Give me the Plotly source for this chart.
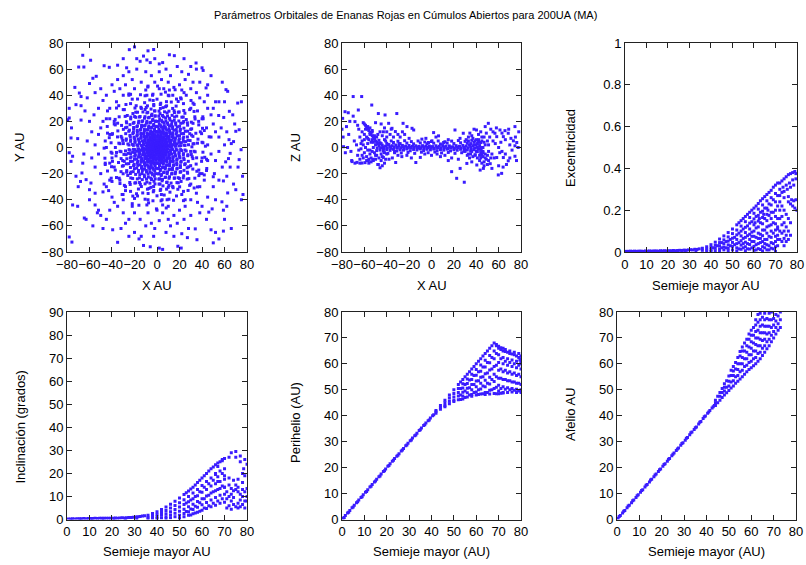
import plotly.graph_objects as go

title_text = "Parámetros Orbitales de Enanas Rojas en Cúmulos Abiertos para 200UA (MA)"

# ---------------- Panel 1: X vs Y (AU) ----------------
pos_xy = [
    (0, 0), (1, 1), (-1, 1), (1, -1), (-1, -1), (2, 0), (-2, 0), (0, 2), (0, -2), (3, 1), (-3, -1), (1, 3), (-1, -3),
    (2, -2), (-2, 2), (4, -3), (3, -4), (-3, 3), (5, 2), (-4, -4), (6, -1), (5, -5), (2, 5), (-5, 1), (-6, -2),
    (4, 0.3), (8, 0.5), (12, 0.4), (16, 1.0), (20, 1.2), (24, 1.8), (28, 2.1), (32, 2.8), (36, 3.3), (40, 4),
    (3.9, 1.1), (7.8, 2.2), (11.6, 3.3), (15.5, 4.5), (19.4, 5.6), (23.2, 6.8), (27, 8.1), (30.7, 9.5), (34.5, 10.9),
    (3.4, 2.1), (6.9, 4.1), (10.3, 6.2), (13.7, 8.3), (17.1, 10.4), (20.5, 12.6), (23.9, 14.8), (27.2, 17.1), (30.5, 19.4), (33.8, 21.8),
    (2.8, 2.9), (5.6, 5.8), (8.4, 8.6), (11.2, 11.5), (13.9, 14.4), (16.7, 17.3), (19.4, 20.3), (22.1, 23.2), (24.8, 26.2),
    (2, 3.5), (3.9, 7), (5.9, 10.5), (7.8, 14), (9.7, 17.5), (11.6, 21), (13.4, 24.6), (15.2, 28.1), (17, 31.7), (18.8, 35.2),
    (1, 3.9), (2, 7.8), (3, 11.7), (4, 15.6), (4.9, 19.5), (5.8, 23.4), (6.7, 27.3), (7.6, 31.2), (8.4, 35.1),
    (-0.3, 4), (-0.5, 8), (-0.6, 12), (-1, 16), (-1.3, 20), (-1.8, 24), (-2.2, 28), (-2.9, 32), (-3.4, 36), (-4, 40),
    (-1.1, 3.9), (-2.2, 7.8), (-3.3, 11.6), (-4.5, 15.5), (-5.7, 19.3), (-6.9, 23.1), (-8.2, 26.9), (-9.6, 30.6), (-11, 34.3),
    (-2.1, 3.4), (-4.1, 6.9), (-6.2, 10.3), (-8.3, 13.7), (-10.5, 17.1), (-12.7, 20.4), (-15, 23.7), (-17.3, 27), (-19.6, 30.2),
    (-2.9, 2.8), (-5.8, 5.6), (-8.7, 8.4), (-11.6, 11.1), (-14.5, 13.8), (-17.4, 16.5), (-20.4, 19.2), (-23.4, 21.9), (-26.4, 24.5),
    (-3.5, 2), (-7, 3.9), (-10.5, 5.9), (-14, 7.8), (-17.5, 9.7), (-21, 11.5), (-24.5, 13.3), (-28, 15.1), (-31.5, 16.9), (-35, 18.6),
    (-3.9, 1), (-7.8, 2), (-11.7, 2.9), (-15.6, 3.9), (-19.5, 4.8), (-23.4, 5.7), (-27.3, 6.5), (-31.2, 7.3), (-35.1, 8.1),
    (-4, -0.3), (-8, -0.6), (-12, -0.8), (-16, -1.2), (-20, -1.6), (-24, -2.1), (-28, -2.6), (-32, -3.2), (-36, -3.8), (-40, -4.4),
    (-3.9, -1.1), (-7.8, -2.2), (-11.6, -3.4), (-15.4, -4.6), (-19.2, -5.9), (-23, -7.2), (-26.8, -8.6), (-30.5, -10), (-34.2, -11.5),
    (-3.4, -2.1), (-6.8, -4.2), (-10.2, -6.3), (-13.6, -8.5), (-17, -10.7), (-20.3, -13), (-23.6, -15.3), (-26.9, -17.7), (-30.1, -20.1),
    (-2.8, -2.9), (-5.6, -5.8), (-8.3, -8.7), (-11, -11.6), (-13.7, -14.6), (-16.4, -17.6), (-19, -20.6), (-21.6, -23.7), (-24.2, -26.8),
    (-2, -3.5), (-3.9, -7), (-5.8, -10.5), (-7.7, -14), (-9.5, -17.5), (-11.3, -21.1), (-13.1, -24.6), (-14.8, -28.2), (-16.5, -31.8), (-18.2, -35.4),
    (-1, -3.9), (-2, -7.8), (-2.9, -11.7), (-3.8, -15.6), (-4.7, -19.5), (-5.5, -23.4), (-6.3, -27.3), (-7.1, -31.3), (-7.9, -35.2),
    (0.3, -4), (0.6, -8), (0.9, -12), (1.3, -16), (1.7, -20), (2.2, -24), (2.7, -28), (3.3, -32), (3.9, -36), (4.5, -40), (5, -44),
    (1.1, -3.9), (2.2, -7.7), (3.4, -11.6), (4.6, -15.4), (5.9, -19.2), (7.2, -23), (8.6, -26.8), (10, -30.5), (11.5, -34.2),
    (2.1, -3.4), (4.2, -6.8), (6.3, -10.2), (8.5, -13.6), (10.7, -17), (13, -20.3), (15.3, -23.6), (17.7, -26.9), (20.1, -30.1),
    (2.9, -2.8), (5.8, -5.6), (8.7, -8.3), (11.6, -11), (14.6, -13.7), (17.6, -16.4), (20.6, -19), (23.7, -21.6), (26.8, -24.2),
    (3.5, -2), (7, -3.9), (10.5, -5.8), (14, -7.7), (17.5, -9.5), (21.1, -11.3), (24.6, -13.1), (28.2, -14.8), (31.8, -16.5), (35.4, -18.2),
    (3.9, -1), (7.8, -2), (11.7, -2.9), (15.6, -3.8), (19.5, -4.7), (23.4, -5.5), (27.3, -6.3), (31.3, -7.1), (35.2, -7.9),
    (5.9, 0.9), (9.9, 1.5), (13.8, 2.2), (17.7, 2.9), (21.6, 3.7), (25.5, 4.5), (29.4, 5.3),
    (5.5, 2.4), (9.2, 4), (12.8, 5.6), (16.4, 7.3), (20, 9), (23.6, 10.7), (27.2, 12.5), (30.8, 14.3),
    (4.7, 3.8), (7.8, 6.2), (10.9, 8.7), (14, 11.2), (17.1, 13.7), (20.1, 16.2), (23.1, 18.8), (26, 21.4),
    (3.6, 4.8), (6, 8), (8.4, 11.2), (10.7, 14.4), (13, 17.6), (15.3, 20.8), (17.5, 24), (19.7, 27.2),
    (2.2, 5.6), (3.7, 9.3), (5.1, 13), (6.5, 16.7), (7.9, 20.4), (9.3, 24.1), (10.6, 27.8),
    (0.7, 5.9), (1.2, 9.9), (1.6, 13.9), (2, 17.9), (2.4, 21.9), (2.7, 25.9), (3, 29.9), (3.3, 33.9),
    (-0.9, 5.9), (-1.5, 9.9), (-2.2, 13.8), (-2.9, 17.7), (-3.7, 21.6), (-4.5, 25.5), (-5.3, 29.4),
    (-2.4, 5.5), (-4, 9.2), (-5.6, 12.8), (-7.3, 16.4), (-9, 20), (-10.7, 23.6), (-12.5, 27.2), (-14.3, 30.8),
    (-3.8, 4.7), (-6.2, 7.8), (-8.7, 10.9), (-11.2, 14), (-13.7, 17.1), (-16.2, 20.1), (-18.8, 23.1), (-21.4, 26),
    (-4.8, 3.6), (-8, 6), (-11.2, 8.4), (-14.4, 10.7), (-17.6, 13), (-20.8, 15.3), (-24, 17.5), (-27.2, 19.7),
    (-5.6, 2.2), (-9.3, 3.7), (-13, 5.1), (-16.7, 6.5), (-20.4, 7.9), (-24.1, 9.3), (-27.8, 10.6),
    (-5.9, 0.7), (-9.9, 1.2), (-13.9, 1.6), (-17.9, 2), (-21.9, 2.4), (-25.9, 2.7), (-29.9, 3), (-33.9, 3.3),
    (-5.9, -0.9), (-9.9, -1.5), (-13.8, -2.2), (-17.7, -2.9), (-21.6, -3.7), (-25.5, -4.5), (-29.4, -5.3),
    (-5.5, -2.4), (-9.2, -4), (-12.8, -5.6), (-16.4, -7.3), (-20, -9), (-23.6, -10.7), (-27.2, -12.5), (-30.8, -14.3),
    (-4.7, -3.8), (-7.8, -6.2), (-10.9, -8.7), (-14, -11.2), (-17.1, -13.7), (-20.1, -16.2), (-23.1, -18.8), (-26, -21.4),
    (-3.6, -4.8), (-6, -8), (-8.4, -11.2), (-10.7, -14.4), (-13, -17.6), (-15.3, -20.8), (-17.5, -24), (-19.7, -27.2),
    (-2.2, -5.6), (-3.7, -9.3), (-5.1, -13), (-6.5, -16.7), (-7.9, -20.4), (-9.3, -24.1), (-10.6, -27.8),
    (-0.7, -5.9), (-1.2, -9.9), (-1.6, -13.9), (-2, -17.9), (-2.4, -21.9), (-2.7, -25.9), (-3, -29.9), (-3.3, -33.9),
    (0.9, -5.9), (1.5, -9.9), (2.2, -13.8), (2.9, -17.7), (3.7, -21.6), (4.5, -25.5), (5.3, -29.4),
    (2.4, -5.5), (4, -9.2), (5.6, -12.8), (7.3, -16.4), (9, -20), (10.7, -23.6), (12.5, -27.2), (14.3, -30.8),
    (3.8, -4.7), (6.2, -7.8), (8.7, -10.9), (11.2, -14), (13.7, -17.1), (16.2, -20.1), (18.8, -23.1), (21.4, -26),
    (4.8, -3.6), (8, -6), (11.2, -8.4), (14.4, -10.7), (17.6, -13), (20.8, -15.3), (24, -17.5), (27.2, -19.7),
    (5.6, -2.2), (9.3, -3.7), (13, -5.1), (16.7, -6.5), (20.4, -7.9), (24.1, -9.3), (27.8, -10.6),
    (5.9, -0.7), (9.9, -1.2), (13.9, -1.6), (17.9, -2), (21.9, -2.4), (25.9, -2.7), (29.9, -3), (33.9, -3.3),
    # third set of spokes (fills the dense core)
    (9, 0.6), (13, 0.8), (17, 1.1), (21, 1.4), (24.9, 1.6), (7.8, 1.6), (11.8, 2.3), (15.7, 3.1), (19.6, 3.9), (23.5, 4.7), (27.5, 5.5),
    (8.5, 2.9), (12.3, 4.2), (16.1, 5.5), (19.9, 6.7), (23.7, 8), (7.2, 3.5), (10.8, 5.3), (14.4, 7.1), (17.9, 8.8), (21.5, 10.6), (25.1, 12.4),
    (7.5, 5), (10.8, 7.2), (14.1, 9.5), (17.5, 11.7), (20.8, 13.9), (6, 5.3), (9, 7.9), (12, 10.5), (15, 13.2), (18, 15.8), (21.1, 18.5),
    (5.9, 6.8), (8.6, 9.8), (11.2, 12.8), (13.8, 15.8), (16.5, 18.8), (4.4, 6.6), (6.7, 10), (8.9, 13.3), (11.1, 16.6), (13.3, 19.9), (15.6, 23.3),
    (4, 8.1), (5.7, 11.7), (7.5, 15.2), (9.3, 18.8), (11.1, 22.4), (2.6, 7.6), (3.9, 11.4), (5.1, 15.2), (6.4, 18.9), (7.7, 22.7), (9, 26.5),
    (1.8, 8.8), (2.5, 12.8), (3.3, 16.7), (4.1, 20.6), (4.9, 24.5), (0.5, 8), (0.8, 12), (1, 16), (1.3, 20), (1.6, 24), (1.8, 27.9),
    (-9, 0.7), (-13, 1), (-17, 1.3), (-21, 1.6), (-24.9, 1.9), (-7.8, 1.6), (-11.8, 2.3), (-15.7, 3.1), (-19.6, 3.9), (-23.5, 4.7), (-27.5, 5.5),
    (-8.5, 2.9), (-12.3, 4.2), (-16.1, 5.5), (-19.9, 6.7), (-23.7, 8), (-7.2, 3.5), (-10.8, 5.3), (-14.4, 7.1), (-17.9, 8.8), (-21.5, 10.6), (-25.1, 12.4),
    (-7.5, 5), (-10.8, 7.2), (-14.1, 9.5), (-17.5, 11.7), (-20.8, 13.9), (-6, 5.3), (-9, 7.9), (-12, 10.5), (-15, 13.2), (-18, 15.8), (-21.1, 18.5),
    (-5.9, 6.8), (-8.6, 9.8), (-11.2, 12.8), (-13.8, 15.8), (-16.5, 18.8), (-4.4, 6.6), (-6.7, 10), (-8.9, 13.3), (-11.1, 16.6), (-13.3, 19.9), (-15.6, 23.3),
    (-4, 8.1), (-5.7, 11.7), (-7.5, 15.2), (-9.3, 18.8), (-11.1, 22.4), (-2.6, 7.6), (-3.9, 11.4), (-5.1, 15.2), (-6.4, 18.9), (-7.7, 22.7), (-9, 26.5),
    (-1.8, 8.8), (-2.5, 12.8), (-3.3, 16.7), (-4.1, 20.6), (-4.9, 24.5), (-0.5, 8.2), (-0.8, 12.2), (-1, 16.2), (-1.3, 20.2), (-1.6, 24.2), (-1.8, 28),
    (-9, -0.6), (-13, -0.8), (-17, -1.1), (-21, -1.4), (-24.9, -1.6), (-7.8, -1.6), (-11.8, -2.3), (-15.7, -3.1), (-19.6, -3.9), (-23.5, -4.7), (-27.5, -5.5),
    (-8.5, -2.9), (-12.3, -4.2), (-16.1, -5.5), (-19.9, -6.7), (-23.7, -8), (-7.2, -3.5), (-10.8, -5.3), (-14.4, -7.1), (-17.9, -8.8), (-21.5, -10.6), (-25.1, -12.4),
    (-7.5, -5), (-10.8, -7.2), (-14.1, -9.5), (-17.5, -11.7), (-20.8, -13.9), (-6, -5.3), (-9, -7.9), (-12, -10.5), (-15, -13.2), (-18, -15.8), (-21.1, -18.5),
    (-5.9, -6.8), (-8.6, -9.8), (-11.2, -12.8), (-13.8, -15.8), (-16.5, -18.8), (-4.4, -6.6), (-6.7, -10), (-8.9, -13.3), (-11.1, -16.6), (-13.3, -19.9), (-15.6, -23.3),
    (-4, -8.1), (-5.7, -11.7), (-7.5, -15.2), (-9.3, -18.8), (-11.1, -22.4), (-2.6, -7.6), (-3.9, -11.4), (-5.1, -15.2), (-6.4, -18.9), (-7.7, -22.7), (-9, -26.5),
    (-1.8, -8.8), (-2.5, -12.8), (-3.3, -16.7), (-4.1, -20.6), (-4.9, -24.5), (-0.5, -8), (-0.8, -12), (-1, -16), (-1.3, -20), (-1.6, -24), (-1.8, -27.9),
    (9, -0.7), (13, -1), (17, -1.3), (21, -1.6), (24.9, -1.9), (7.8, -1.6), (11.8, -2.3), (15.7, -3.1), (19.6, -3.9), (23.5, -4.7), (27.5, -5.5),
    (8.5, -2.9), (12.3, -4.2), (16.1, -5.5), (19.9, -6.7), (23.7, -8), (7.2, -3.5), (10.8, -5.3), (14.4, -7.1), (17.9, -8.8), (21.5, -10.6), (25.1, -12.4),
    (7.5, -5), (10.8, -7.2), (14.1, -9.5), (17.5, -11.7), (20.8, -13.9), (6, -5.3), (9, -7.9), (12, -10.5), (15, -13.2), (18, -15.8), (21.1, -18.5),
    (5.9, -6.8), (8.6, -9.8), (11.2, -12.8), (13.8, -15.8), (16.5, -18.8), (4.4, -6.6), (6.7, -10), (8.9, -13.3), (11.1, -16.6), (13.3, -19.9), (15.6, -23.3),
    (4, -8.1), (5.7, -11.7), (7.5, -15.2), (9.3, -18.8), (11.1, -22.4), (2.6, -7.6), (3.9, -11.4), (5.1, -15.2), (6.4, -18.9), (7.7, -22.7), (9, -26.5),
    (1.8, -8.8), (2.5, -12.8), (3.3, -16.7), (4.1, -20.6), (4.9, -24.5), (0.5, -8.2), (0.8, -12.2), (1, -16.2), (1.3, -20.2), (1.6, -24.2), (1.8, -28),
    # middle ring (r ~ 30-47)
    (31, 0.5), (43, 1), (36.4, 6.4), (46.3, 8.2), (29.1, 10.6), (40.4, 14.7), (32, 18.5), (40.7, 23.5), (23.7, 19.9),
    (32.9, 27.6), (23.8, 28.3), (30.2, 36), (15.5, 26.8), (21.5, 37.2), (12.7, 34.8), (16.1, 44.2), (5.4, 30.5), (7.5, 42.4),
    (0, 37), (0.5, 47), (-6.4, 36.4), (-8.2, 46.3), (-10.6, 29.1), (-14.7, 40.4), (-18.5, 32), (-23.5, 40.7), (-19.9, 23.7),
    (-27.6, 32.9), (-28.3, 23.8), (-36, 30.2), (-26.8, 15.5), (-37.2, 21.5), (-34.8, 12.7), (-44.2, 16.1), (-30.5, 5.4),
    (-42.4, 7.5), (-37, 0), (-47, -0.5), (-36.4, -6.4), (-46.3, -8.2), (-29.1, -10.6), (-40.4, -14.7), (-32, -18.5),
    (-40.7, -23.5), (-23.7, -19.9), (-32.9, -27.6), (-23.8, -28.3), (-30.2, -36), (-15.5, -26.8), (-21.5, -37.2),
    (-12.7, -34.8), (-16.1, -44.2), (-5.4, -30.5), (-7.5, -42.4), (0, -37), (-0.5, -47), (6.4, -36.4), (8.2, -46.3),
    (10.6, -29.1), (14.7, -40.4), (18.5, -32), (23.5, -40.7), (19.9, -23.7), (27.6, -32.9), (28.3, -23.8), (36, -30.2),
    (26.8, -15.5), (37.2, -21.5), (34.8, -12.7), (44.2, -16.1), (30.5, -5.4), (42.4, -7.5),
    (32.9, 2.9), (40.8, 3.6), (31.9, 8.5), (39.6, 10.6), (29.9, 13.9), (37.1, 17.3), (27, 18.9), (33.6, 23.5), (23.3, 23.3),
    (29, 29), (18.9, 27), (23.5, 33.6), (13.9, 29.9), (17.3, 37.1), (8.5, 31.9), (10.6, 39.6), (2.9, 32.9), (3.6, 40.8),
    (-2.9, 32.9), (-3.6, 40.8), (-8.5, 31.9), (-10.6, 39.6), (-13.9, 29.9), (-17.3, 37.1), (-18.9, 27), (-23.5, 33.6),
    (-23.3, 23.3), (-29, 29), (-27, 18.9), (-33.6, 23.5), (-29.9, 13.9), (-37.1, 17.3), (-31.9, 8.5), (-39.6, 10.6),
    (-32.9, 2.9), (-40.8, 3.6), (-32.9, -2.9), (-40.8, -3.6), (-31.9, -8.5), (-39.6, -10.6), (-29.9, -13.9), (-37.1, -17.3),
    (-27, -18.9), (-33.6, -23.5), (-23.3, -23.3), (-29, -29), (-18.9, -27), (-23.5, -33.6), (-13.9, -29.9), (-17.3, -37.1),
    (-8.5, -31.9), (-10.6, -39.6), (-2.9, -32.9), (-3.6, -40.8), (2.9, -32.9), (3.6, -40.8), (8.5, -31.9), (10.6, -39.6),
    (13.9, -29.9), (17.3, -37.1), (18.9, -27), (23.5, -33.6), (23.3, -23.3), (29, -29), (27, -18.9), (33.6, -23.5),
    (29.9, -13.9), (37.1, -17.3), (31.9, -8.5), (39.6, -10.6), (32.9, -2.9), (40.8, -3.6),
    # spoke extensions
    (38.5, 12), (42, 13), (37, 20), (41, 22), (30, 30), (33, 33), (21, 38), (24, 42), (10, 40), (11, 44), (-9, 40),
    (-10, 44), (-22, 37), (-25, 41), (-30, 29), (-34, 32), (-38, 20), (-42, 22), (-40, 10), (-44, 11), (-42, -12),
    (-46, -13), (-36, -23), (-40, -26), (-28, -33), (-31, -36), (-20, -39), (-22, -43), (-8, -40), (-9, -44),
    (9, -40), (10, -45), (22, -36), (25, -40), (30, -28), (33, -31), (38, -20), (42, -21), (40, -8), (44, -9),
    (0, -48), (-45, 0), (45, 2), (2, 45),
    # outer, upper left
    (-66, 70.6), (-69.6, 61.6), (-65, 61.6), (-59, 66.8), (-47, 62.6), (-42.4, 61.4), (-24.6, 74.9), (-20, 77),
    (-18, 68), (-15, 66), (-12, 70), (-9, 67), (-6, 65), (-54, 54.5), (-57, 53), (-60, 49), (-69, 41.7), (-67.5, 39),
    (-72, 32.8), (-67.5, 32), (-78, 22.6), (-79.4, 21.3), (-67.5, 21), (-76.4, 7.3), (-70.5, 6.8),
    (-50, 45), (-45, 40), (-48, 36), (-40, 48), (-35, 52), (-30, 55), (-28, 48), (-38, 43), (-52, 30), (-56, 25),
    (-60, 20), (-58, 12), (-62, 5), (-50, 15), (-45, 22), (-42, 30), (-33, 45), (-25, 58), (-22, 52), (-18, 60),
    (-10, 58), (-5, 55), (-2, 50), (-8, 47), (-14, 50), (-30, 40), (-36, 35), (-44, 28), (-48, 20), (-52, 10),
    (-55, 2), (-42, 10), (-46, 5), (-38, 18), (-20, 45), (-25, 40), (-73, 46), (-78, 30), (-76, 15), (-64, 28),
    (-62, 38), (-55, 42), (-35, 63), (-30, 68), (-8, 74), (-2, 68), (-27, 61),
    # outer, upper right
    (11, 71), (15.4, 70.3), (34.7, 64.7), (35, 60), (40, 61), (41, 59), (45, 48), (43.6, 45.6), (61.3, 44.3),
    (62.8, 43), (71.7, 34), (52, 35), (55, 35), (64.3, 27.7), (67.3, 25), (54.8, 24.5), (59.3, 23), (73, 13.6),
    (70, 12.4), (64, 6), (66, 3), (68, 4.5), (5, 65), (8, 60), (2, 58), (12, 55), (18, 62), (22, 58), (25, 52),
    (28, 56), (20, 48), (15, 46), (30, 45), (35, 42), (38, 38), (42, 35), (45, 30), (48, 25), (50, 18), (52, 12),
    (55, 8), (48, 8), (44, 15), (40, 22), (36, 28), (32, 34), (26, 40), (22, 44), (10, 50), (6, 45), (4, 52),
    (45, 40), (50, 30), (57, 15), (60, 35), (58, 50), (48, 55), (30, 62), (24, 68), (62, 12), (38, 50), (32, 50),
    (14, 40), (-3, 75), (2, 64), (60, 2), (75, 35), (69, 18),
    # outer, lower left
    (-78, -4), (-75, -6.7), (-76.4, -10.6), (-66, -12), (-66.7, -19.5), (-63, -24.6), (-58.7, -27.2), (-60, -32.3),
    (-75, -44), (-70.5, -45), (-55, -44), (-52, -48), (-50, -52), (-53, -50), (-64.6, -54), (-63, -55), (-78, -68.5),
    (-75.6, -72.4), (-39.4, -63), (-35, -72.6), (-20, -65), (-16, -70), (-12, -75), (-14, -68),
    (-45, -30), (-47, -28), (-43, -33), (-48, -34), (-42, -25), (-40, -38), (-38, -42), (-35, -45), (-30, -50),
    (-25, -55), (-28, -58), (-20, -50), (-15, -55), (-10, -60), (-5, -58), (-8, -50), (-22, -45), (-30, -40),
    (-50, -20), (-55, -15), (-58, -8), (-52, -5), (-46, -12), (-44, -18), (-60, -40), (-57, -60), (-45, -55),
    (-48, -62), (-32, -62), (-25, -68), (-3, -68), (-6, -76), (-2, -62), (-70, -30), (-68, -26), (-72, -22),
    (-65, -5), (-55, -35), (-42, -48), (-28, -30), (-33, -25), (-38, -15), (-40, -8),
    # outer, lower right
    (74.7, -1.7), (73, -9.3), (65, -4.5), (63.5, -8.5), (61, -11), (44, -17.6), (51, -20), (50, -22.4), (62, -22),
    (59, -25.6), (70, -32.3), (62.8, -34.8), (76.4, -36), (75, -40), (57.7, -41.6), (59, -48), (49, -47), (46, -49.5),
    (48, -63), (52, -65), (59, -64), (55, -70), (50, -73), (34, -62.3), (27, -69), (35.5, -70.6), (18.5, -75.6),
    (21.5, -77), (2, -77), (5, -78), (40, -20), (42, -25), (38, -30), (35, -35), (30, -40), (25, -45), (20, -48),
    (15, -52), (10, -55), (5, -50), (2, -56), (12, -60), (18, -58), (24, -55), (30, -52), (40, -45), (45, -38),
    (50, -30), (55, -25), (58, -15), (52, -10), (48, -5), (55, -3), (45, -10), (36, -42), (28, -62), (8, -65),
    (15, -68), (22, -66), (65, -15), (68, -28), (44, -55), (38, -50), (52, -40), (62, -45), (66, -62), (60, -55),
    (72, -15), (76, -22),
]

# ---------------- Panel 2: X vs Z (AU) ----------------
pos_xz = [
    (-50, 2), (-47, 1.2), (-44, 1.8), (-41, 1), (-38, 2.2), (-35, 1.4), (-32, 1.9), (-29, 1.1), (-26, 1.6), (-23, 1),
    (-20, 1.5), (-17, 0.9), (-14, 1.3), (-11, 0.8), (-8, 1.4), (-5, 1), (-2, 1.2), (1, 0.7), (4, 1.3), (7, 0.9),
    (10, 1.5), (13, 1), (16, 1.2), (19, 0.6), (22, 1.4), (25, 0.9), (28, 1.6), (31, 1.1), (34, 1.8), (37, 1.3),
    (40, 2), (43, 1.5),
    (-48.5, -0.5), (-45.5, -0.2), (-42.5, -0.8), (-39.5, -0.3), (-36.5, -0.6), (-33.5, 0), (-30.5, -0.5), (-27.5, -0.2),
    (-24.5, -0.7), (-21.5, -0.1), (-18.5, -0.4), (-15.5, 0.1), (-12.5, -0.5), (-9.5, -0.2), (-6.5, -0.6), (-3.5, 0),
    (-0.5, -0.3), (2.5, -0.7), (5.5, -0.1), (8.5, -0.5), (11.5, -0.2), (14.5, -0.8), (17.5, -0.3), (20.5, -0.6),
    (23.5, 0), (26.5, -0.5), (29.5, -0.9), (32.5, -0.3), (35.5, -1), (38.5, -0.4), (41.5, -1.2), (44.5, -0.6),
    (-52, 4), (-46, 3.6), (-40, 3.2), (-34, 3.8), (-28, 3), (-22, 3.4), (-16, 2.8), (-10, 3.5), (-4, 2.9), (2, 3.3),
    (8, 2.7), (14, 3.4), (20, 3), (26, 3.6), (32, 3.2), (38, 4), (44, 3.8),
    (-53, -3), (-49, -2.4), (-43, -2.8), (-37, -2.2), (-31, -2.7), (-25, -2), (-19, -2.5), (-13, -1.9), (-7, -2.3),
    (-1, -1.8), (5, -2.4), (11, -2), (17, -2.6), (23, -2.1), (29, -2.9), (35, -2.5), (41, -3.2), (46, -3),
    (-43, 0.4), (-37, 0.6), (-31, 0.3), (-25, 0.5), (-19, 0.2), (-13, 0.4), (-7, 0.3), (-1, 0.5), (5, 0.2), (11, 0.4),
    (17, 0.1), (23, 0.3), (29, 0.2), (35, 0.4), (41, 0.1),
    (-40, -1.6), (-34, -1.4), (-28, -1.8), (-22, -1.2), (-16, -1.5), (-10, -1.1), (-4, -1.4), (2, -1.2), (8, -1.6),
    (14, -1.3), (20, -1.7), (26, -1.4), (32, -1.9), (38, -1.6), (44, -2.2),
    (-56, 6), (-55, -5), (-51, 7), (-50, -6), (-47, 5.5), (-45, -5), (-42, 6), (-39, -4.5), (-36, 5), (-33, -4),
    (-30, 4.8), (-27, -4.2), (-24, 5.2), (-21, -3.8), (-18, 4.5), (-15, -4.5), (-12, 5), (-9, -3.6), (-6, 4.2),
    (-3, -4), (0, 4.6), (3, -3.5), (6, 5), (9, -4.2), (12, 4.4), (15, -3.8), (18, 4.9), (21, -4.5), (24, 5.3),
    (27, -4), (30, 4.7), (33, -5), (36, 5.5), (39, -5.5), (42, 6), (45, -6), (47, 4),
    (-58, 8), (-57, 3), (-57, -2), (-59, 0), (-60, -4), (-61, 2), (-62, 5), (-58, -7), (-56, -9), (-54, -8),
    (-52, -10), (-50, -9), (-55, 10), (-53, 12), (-51, 9), (-49, 8), (-47, -8), (-45, -10), (-44, -14), (-42, -12),
    (-48, -13),
    (-60, 10), (-58, -10), (-62, -6), (-64, -9), (-56, -12), (-54, -11), (-60, 6), (-63, 3), (-65, -2), (-61, -8),
    (-57, 7), (-54, 4), (-55, -2), (-52, 0), (-53, 6), (-51, -4), (-49, -6), (-46, -2), (-44, -7), (-41, -9),
    (-48, 10), (-46, 12), (-44, 9), (-42, 15), (-40, 12), (-36, 14), (-34, 8), (-30, 10), (-26, 12), (-33, -3),
    (-29, 3), (-45, 3), (-43, -1), (-41, 5), (-39, 2),
    (-61, 19), (-60, 18), (-59, 17), (-58, 15.5), (-57, 14), (-56, 13), (-55, 11.5), (-54, 10.5), (-53, 9), (-52, 8),
    (-51, 6.5), (-50, 5), (-49, 4), (-48, 3), (-47, 2.5), (-59, 14), (-57, 16), (-55, 15), (-53, 13),
    (-79.4, 22.3), (-77.3, 27.4), (-74.4, 26.6), (-70, 24), (-68.4, 19.8), (-70, 39), (-62.4, 39), (-65.4, 28.7),
    (-79, 8), (-78.6, 0.6), (-75, 0), (-77, -4), (-71.3, -10), (-68.4, -12), (-64, -12), (-59.4, -11.6), (-56.5, -10),
    (-71, -10.8), (-66.6, -11.4), (-62.1, -11.9), (-53.4, 32.5), (-47.5, 26), (-41.5, 24.9), (-50, 19), (-31, 26),
    (-38.3, 18.5), (-35.3, 14.7), (-32.3, 12.2), (-25.4, 18.5), (-21.9, 16), (-17.4, 14.7), (-15.9, 13.4),
    (-47.5, -13), (-46, -15.5), (-52.5, -9), (-43, -7.6), (-40, -5), (-32, -11.5), (-26.5, -7), (-14, -11.5), (-10, -7.6),
    (-80, 14), (-76, 16), (-73, 20), (-66, 17), (-64, 8), (-67, 2), (-72, -3), (-66, -6), (-63, -1), (-69, 5),
    (-74, 10), (-62, 12), (-65, 14), (-45, 18), (-43, 12), (-40, 8), (-37, 10), (-28, 8), (-24, 10), (-20, 7),
    (-35, -8), (-30, -6), (-22, -6), (-18, -8), (-38, -9), (-42, -4),
    (0.4, 5.1), (1.9, 11.4), (6.3, 8.9), (10.8, 3.8), (-8.6, 6.4), (-2.7, 3.8), (21, 13.4), (25.5, 7), (28.4, 10.9),
    (34.3, 11), (40.2, 13.4), (50.8, 18.5), (4, 8), (-5, 7), (15, 6), (12, -6), (8, -7), (0, -6), (-6, -5), (18, -8),
    (24, -9), (15, -10), (5, -5),
    (61.2, 13.4), (65.7, 12.9), (56.7, 10.9), (58.3, 8.3), (64.2, 8.3), (68.6, 10.9), (74.6, 16), (73.2, 5.1),
    (76.2, 3.8), (74.6, 1.3), (77.5, 0), (61, -4), (58.3, -7.7), (64.2, -7.7), (68.6, -10.2), (59.7, -21), (62.7, -19.8),
    (74.6, -6.7), (22.5, -23.6), (29.3, -26.6), (18, -18.5), (25.6, -16), (31.6, -12.2), (36, -11), (40.5, -13.4),
    (43.5, -17.3), (46.4, -16), (51, -10), (52.5, -12.4), (54, -5), (64, -15),
    (33, 5), (35, 3), (37, 7), (39, -6), (40, 6), (41, -8), (42, 4), (43, -10), (44, -4), (45, 8), (46, -7),
    (47, -11), (48, 2), (49, -9), (50, 5), (51, -3), (47, -14), (45, -12), (43, -6), (41, 3), (39, 5), (37, -7),
    (35, -5), (48, -5), (46, 0), (44, 0), (50, -13),
    (30, -3), (32, -6), (34, -8), (36, -3), (38, 2), (40, -3), (42, -1), (44, -8), (46, -4), (48, -8), (50, -6),
    (31, 6), (33, 8), (36, 9), (42, 10), (45, 5), (47, 8), (49, 11), (51, 2), (53, -8), (55, 5),
    (52, 8), (55, 12), (57, 3), (60, 0), (62, 4), (66, 6), (70, 2), (72, -2), (69, 14), (71, 7), (75, 8), (78, 12),
    (63, -3), (66, -5), (56, -8), (70, -8), (67, -13), (53, 14), (58, 15), (63, 11), (60, -14), (76, -10), (54, -16),
    (48, 16), (44, 12), (38, 14),
]

# ---------------- Panel 3: semi-major axis vs eccentricity ----------------
a_ecc = [
    (0.5, 0.003), (1.5, 0.003), (2.5, 0.004), (3.5, 0.003), (4.5, 0.004), (5.5, 0.003), (6.5, 0.004), (7.5, 0.004),
    (8.5, 0.003), (9.5, 0.005), (10.5, 0.004), (11.5, 0.005), (12.5, 0.004), (13.5, 0.005), (14.5, 0.005), (15.5, 0.004),
    (16.5, 0.006), (17.5, 0.005), (18.5, 0.006), (19.5, 0.005), (20.5, 0.006), (21.5, 0.006), (22.5, 0.007), (23.5, 0.006),
    (24.5, 0.007), (25.5, 0.008), (26.5, 0.007), (27.5, 0.009), (28.5, 0.008), (29.5, 0.010), (30.5, 0.011), (31.5, 0.010),
    (32.5, 0.013), (33.5, 0.012), (34.5, 0.015), (1, 0.001), (4, 0.001), (8, 0.002), (13, 0.002), (18, 0.003),
    (23, 0.003), (28, 0.004), (33, 0.005),
    (36, 0.018), (36, 0.008), (38, 0.025), (38, 0.014), (38, 0.005),
    (40, 0.035), (40, 0.022), (40, 0.01), (40, 0.003), (42, 0.047), (42, 0.032), (42, 0.018), (42, 0.006),
    (44, 0.062), (44, 0.045), (44, 0.03), (44, 0.015), (44, 0.004), (46, 0.077), (46, 0.058), (46, 0.04), (46, 0.024), (46, 0.01),
    (48, 0.093), (48, 0.072), (48, 0.052), (48, 0.034), (48, 0.017), (48, 0.005),
    (50, 0.11), (50, 0.088), (50, 0.066), (50, 0.046), (50, 0.027), (50, 0.01),
    (52, 0.13), (52, 0.105), (52, 0.082), (52, 0.06), (52, 0.04), (52, 0.02), (52, 0.005),
    (54, 0.15), (54, 0.124), (54, 0.1), (54, 0.077), (54, 0.054), (54, 0.033), (54, 0.013),
    (56, 0.17), (56, 0.145), (56, 0.118), (56, 0.093), (56, 0.07), (56, 0.047), (56, 0.025), (56, 0.006),
    (58, 0.19), (58, 0.165), (58, 0.138), (58, 0.11), (58, 0.085), (58, 0.06), (58, 0.036), (58, 0.014),
    (60, 0.21), (60, 0.185), (60, 0.158), (60, 0.13), (60, 0.1), (60, 0.075), (60, 0.05), (60, 0.027), (60, 0.008),
    (62, 0.232), (62, 0.205), (62, 0.175), (62, 0.148), (62, 0.12), (62, 0.09), (62, 0.065), (62, 0.04), (62, 0.016),
    (64, 0.255), (64, 0.225), (64, 0.195), (64, 0.165), (64, 0.135), (64, 0.105), (64, 0.078), (64, 0.05), (64, 0.025), (64, 0.005),
    (66, 0.275), (66, 0.245), (66, 0.21), (66, 0.18), (66, 0.15), (66, 0.12), (66, 0.09), (66, 0.06), (66, 0.035), (66, 0.01),
    (68, 0.295), (68, 0.26), (68, 0.225), (68, 0.19), (68, 0.16), (68, 0.13), (68, 0.1), (68, 0.07), (68, 0.045), (68, 0.018),
    (70, 0.32), (70, 0.28), (70, 0.24), (70, 0.2), (70, 0.17), (70, 0.135), (70, 0.105), (70, 0.075), (70, 0.05), (70, 0.025), (70, 0.003),
    (53, 0.14), (53, 0.09), (53, 0.045), (55, 0.16), (55, 0.11), (55, 0.065), (55, 0.02),
    (57, 0.18), (57, 0.125), (57, 0.078), (57, 0.04), (59, 0.2), (59, 0.145), (59, 0.095), (59, 0.05), (59, 0.02),
    (61, 0.22), (61, 0.17), (61, 0.115), (61, 0.07), (61, 0.035), (63, 0.245), (63, 0.19), (63, 0.14), (63, 0.085), (63, 0.045), (63, 0.012),
    (65, 0.265), (65, 0.21), (65, 0.16), (65, 0.105), (65, 0.06), (65, 0.02), (67, 0.285), (67, 0.23), (67, 0.175), (67, 0.125), (67, 0.075), (67, 0.03),
    (69, 0.31), (69, 0.25), (69, 0.19), (69, 0.14), (69, 0.09), (69, 0.04), (71, 0.33), (71, 0.27), (71, 0.22), (71, 0.16), (71, 0.11), (71, 0.06),
    (41, 0.02), (43, 0.03), (45, 0.045), (47, 0.05), (49, 0.06), (51, 0.07), (45, 0.02), (47, 0.02), (49, 0.03),
    (51, 0.035), (53, 0.015), (55, 0.04), (57, 0.015), (59, 0.075), (61, 0.01), (63, 0.065), (65, 0.04), (67, 0.01),
    (69, 0.015), (66.5, 0.2), (64.5, 0.18), (62.5, 0.16), (60.5, 0.14),
    (72, 0.33), (73, 0.34), (74, 0.35), (75, 0.36), (76, 0.37), (77, 0.375), (78, 0.38), (79, 0.385), (79.5, 0.375),
    (72, 0.3), (73.5, 0.31), (75, 0.32), (76.5, 0.33), (78, 0.345), (79.5, 0.35),
    (72, 0.27), (73, 0.285), (74, 0.29), (75.5, 0.3), (77, 0.31), (78.5, 0.32),
    (74, 0.26), (76, 0.265), (77.5, 0.25), (78.5, 0.245), (79.5, 0.25), (77, 0.23), (78, 0.22), (79, 0.21), (80, 0.2), (76, 0.24),
    (72, 0.24), (73, 0.22), (74, 0.2), (75, 0.18), (76, 0.16), (77, 0.14), (72, 0.2), (73, 0.17), (74, 0.14), (75, 0.12),
    (76, 0.1), (77, 0.08), (72, 0.16), (73, 0.13), (74, 0.1), (75, 0.08), (76, 0.06), (73, 0.09), (74, 0.065), (75, 0.05),
    (71, 0.12), (71, 0.08), (72, 0.1), (72, 0.06), (73, 0.05), (71, 0.03), (74, 0.03),
]

# ---------------- Panel 4: semi-major axis vs inclination ----------------
a_inc = [
    (0.5, 0.2), (1.5, 0.2), (2.5, 0.3), (3.5, 0.2), (4.5, 0.3), (5.5, 0.3), (6.5, 0.3), (7.5, 0.4), (8.5, 0.3), (9.5, 0.4),
    (10.5, 0.4), (11.5, 0.4), (12.5, 0.5), (13.5, 0.4), (14.5, 0.5), (15.5, 0.5), (16.5, 0.5), (17.5, 0.6), (18.5, 0.5),
    (19.5, 0.6), (20.5, 0.6), (21.5, 0.7), (22.5, 0.6), (23.5, 0.7), (24.5, 0.8), (25.5, 0.7), (26.5, 0.8), (27.5, 0.9),
    (28.5, 0.9), (29.5, 1.0), (30.5, 1.1), (31.5, 1.2), (32.5, 1.3), (33.5, 1.5), (34.5, 1.6), (2, 0.0), (6, 0.1),
    (11, 0.1), (16, 0.2), (21, 0.2), (26, 0.3), (31, 0.4),
    (36, 1.9), (36, 1.0), (36, 0.3), (38, 2.6), (38, 1.5), (38, 0.6), (40, 3.4), (40, 2.2), (40, 1.1), (40, 0.3),
    (42, 4.3), (42, 3), (42, 1.8), (42, 0.7), (44, 5.4), (44, 3.9), (44, 2.5), (44, 1.2), (44, 0.3),
    (46, 6.6), (46, 5), (46, 3.4), (46, 2), (46, 0.8), (48, 7.9), (48, 6.1), (48, 4.3), (48, 2.7), (48, 1.2),
    (50, 9.3), (50, 7.3), (50, 5.4), (50, 3.6), (50, 1.9), (50, 0.6), (52, 10.8), (52, 8.6), (52, 6.5), (52, 4.5), (52, 2.6), (52, 1.2),
    (54, 12.4), (54, 10), (54, 7.7), (54, 5.5), (54, 3.4), (54, 1.8), (56, 14), (56, 11.5), (56, 9), (56, 6.6), (56, 4.3), (56, 2.5),
    (58, 16), (58, 13), (58, 10.3), (58, 7.8), (58, 5.3), (58, 3.2), (60, 18), (60, 14.8), (60, 11.8), (60, 9), (60, 6.4), (60, 4),
    (62, 20), (62, 16.5), (62, 13), (62, 10.2), (62, 7.4), (62, 4.8), (64, 22), (64, 18), (64, 14.5), (64, 11.5), (64, 8.5), (64, 5.5),
    (66, 23.8), (66, 19.5), (66, 15.5), (66, 12.5), (66, 9.5), (66, 6.2), (68, 25), (68, 21), (68, 16.5), (68, 13.5), (68, 10.5), (68, 7),
    (70, 26.5), (70, 22), (70, 17.5), (70, 14), (70, 11), (70, 7.5),
    (53, 11.6), (53, 7.2), (53, 3.5), (55, 13.2), (55, 8.5), (55, 4.6), (55, 2), (57, 15), (57, 10), (57, 5.8), (57, 2.8),
    (59, 17), (59, 12), (59, 7.3), (59, 3.6), (61, 19), (61, 14), (61, 9), (61, 5), (63, 21), (63, 15.5), (63, 10.5), (63, 6),
    (65, 22.8), (65, 17), (65, 12), (65, 7), (67, 24.5), (67, 18.5), (67, 13), (67, 8), (69, 26), (69, 20), (69, 14.5), (69, 9),
    (66, 20), (67, 23), (69, 25.5), (72, 27), (75, 27), (77, 25), (78.5, 22), (79, 19), (78, 16), (76, 14), (73, 13.5),
    (70, 14), (67, 16.5), (73, 29), (75, 29.5), (77, 27.5), (79, 26), (80, 24), (78, 20), (76, 17.5), (74, 17), (72, 18), (70, 19),
    (71, 12), (72, 10), (73, 8), (74, 6.5), (75, 5.5), (76, 5), (77, 5.5), (78, 6.5), (79, 8), (80, 10), (71, 5), (72, 6),
    (73, 11), (74, 12.5), (75, 13), (76, 12), (77, 11), (78, 10), (79, 12), (80, 13.5), (72, 15), (75, 15), (78, 13), (71, 9),
    (74, 9.5), (77, 8.5), (80, 8), (73, 4.5), (76, 7), (79, 5),
]

# ---------------- Panel 5: semi-major axis vs perihelion ----------------
a_peri = [
    (0.5, 0.5), (1.5, 1.5), (2.5, 2.5), (3.5, 3.5), (4.5, 4.5), (5.5, 5.5), (6.5, 6.5), (7.5, 7.5), (8.5, 8.5), (9.5, 9.5),
    (10.5, 10.5), (11.5, 11.5), (12.5, 12.5), (13.5, 13.5), (14.5, 14.5), (15.5, 15.5), (16.5, 16.5), (17.5, 17.5),
    (18.5, 18.5), (19.5, 19.5), (20.5, 20.5), (21.5, 21.5), (22.5, 22.5), (23.5, 23.5), (24.5, 24.4), (25.5, 25.4),
    (26.5, 26.4), (27.5, 27.4), (28.5, 28.4), (29.5, 29.4), (30.5, 30.4), (31.5, 31.4), (32.5, 32.3), (33.5, 33.3),
    (34.5, 34.3), (35.5, 35.3), (36.5, 36.2), (37.5, 37.2), (38.5, 38.1), (39.5, 39.1), (40.5, 40), (41, 40.4),
    (1, 0.8), (3, 2.8), (5, 4.8), (7, 6.8), (9, 8.8), (11, 10.8), (13, 12.8), (15, 14.8), (17, 16.8), (19, 18.8),
    (21, 20.8), (23, 22.8), (25, 24.8), (27, 26.8), (29, 28.7), (31, 30.7), (33, 32.6), (35, 34.6), (37, 36.5), (39, 38.4),
    (42, 42), (42, 41.5), (42, 41), (44, 44), (44, 43.2), (44, 42.5), (46, 46), (46, 45), (46, 44), (46, 43.5),
    (48, 48), (48, 46.8), (48, 45.6), (48, 44.6), (50, 50), (50, 48.6), (50, 47.2), (50, 46), (50, 45.5),
    (52, 52), (52, 50.5), (52, 49), (52, 47.6), (52, 46.2), (54, 54), (54, 52.3), (54, 50.7), (54, 49.1), (54, 47.6), (54, 46.5),
    (56, 56), (56, 54.2), (56, 52.4), (56, 50.6), (56, 48.9), (56, 47.2), (58, 58), (58, 56), (58, 54), (58, 52), (58, 50), (58, 48.2), (58, 47.5),
    (60, 60), (60, 57.8), (60, 55.6), (60, 53.4), (60, 51.2), (60, 49.2), (60, 48),
    (62, 62), (62, 59.6), (62, 57.2), (62, 54.8), (62, 52.5), (62, 50.3), (62, 48.4),
    (64, 64), (64, 61.4), (64, 58.8), (64, 56.2), (64, 53.7), (64, 51.2), (64, 49), (64, 48.2),
    (66, 66), (66, 63.2), (66, 60.4), (66, 57.6), (66, 54.8), (66, 52.2), (66, 49.8), (66, 48.4),
    (68, 68), (68, 65), (68, 62), (68, 59), (68, 56), (68, 53.2), (68, 50.5), (68, 48.6),
    (70, 66), (70, 63.5), (70, 60.5), (70, 57.5), (70, 54.5), (70, 51.8), (70, 49.5), (70, 48.5),
    (72, 65), (72, 62.5), (72, 60), (72, 57), (72, 54), (72, 51.2), (72, 49), (72, 48.8),
    (74, 64.5), (74, 62), (74, 59.5), (74, 56.5), (74, 53.5), (74, 50.8), (74, 49),
    (76, 63.8), (76, 61.5), (76, 59), (76, 56), (76, 53), (76, 50.5), (76, 49.2),
    (78, 63), (78, 61), (78, 58.5), (78, 55.5), (78, 52.5), (78, 50.2), (78, 49),
    (80, 62), (80, 60.5), (80, 58), (80, 55), (80, 52), (80, 50), (80, 49),
    (53, 53), (53, 50.5), (53, 48), (53, 46.3), (55, 55), (55, 52), (55, 49.5), (55, 47),
    (57, 57), (57, 53.8), (57, 50.8), (57, 48), (59, 59), (59, 55.5), (59, 52), (59, 49),
    (61, 61), (61, 57), (61, 53.5), (61, 50), (61, 48.2), (63, 63), (63, 58.8), (63, 55), (63, 51.5), (63, 48.5),
    (65, 65), (65, 60.5), (65, 56.5), (65, 52.5), (65, 49), (67, 67), (67, 62.5), (67, 58), (67, 54), (67, 50),
    (69, 67.5), (69, 64), (69, 59.5), (69, 55), (69, 51), (69, 48.5), (71, 65.5), (71, 62), (71, 58), (71, 54.5), (71, 50.5), (71, 48.7),
    (73, 64.8), (73, 61), (73, 57.5), (73, 54), (73, 50.2), (75, 64), (75, 60.5), (75, 57), (75, 53.5), (75, 50),
    (77, 63.5), (77, 60), (77, 56.5), (77, 53), (77, 49.8), (79, 62.5), (79, 59.5), (79, 56), (79, 52.5), (79, 49.5),
    (69, 67), (70, 66.8), (71, 66.2), (72, 66), (73, 65.5), (75, 65), (77, 64.5), (79, 64), (80, 63), (80, 60), (79.5, 61.5),
]

# ---------------- Panel 6: semi-major axis vs aphelion ----------------
a_afel = [
    (0.5, 0.5), (1.5, 1.5), (2.5, 2.5), (3.5, 3.5), (4.5, 4.5), (5.5, 5.5), (6.5, 6.5), (7.5, 7.5), (8.5, 8.5), (9.5, 9.5),
    (10.5, 10.5), (11.5, 11.5), (12.5, 12.5), (13.5, 13.5), (14.5, 14.5), (15.5, 15.5), (16.5, 16.5), (17.5, 17.5),
    (18.5, 18.5), (19.5, 19.5), (20.5, 20.5), (21.5, 21.5), (22.5, 22.5), (23.5, 23.5), (24.5, 24.6), (25.5, 25.6),
    (26.5, 26.6), (27.5, 27.6), (28.5, 28.6), (29.5, 29.6), (30.5, 30.6), (31.5, 31.6), (32.5, 32.7), (33.5, 33.7),
    (34.5, 34.7), (35.5, 35.7), (36.5, 36.8), (37.5, 37.8), (38.5, 38.9), (39.5, 39.9), (40.5, 41), (41.5, 42),
    (42.5, 43), (43.5, 44), (1, 1.2), (3, 3.2), (5, 5.2), (7, 7.2), (9, 9.2), (11, 11.2), (13, 13.2), (15, 15.2),
    (17, 17.2), (19, 19.2), (21, 21.2), (23, 23.2), (25, 25.2), (27, 27.2), (29, 29.3), (31, 31.3), (33, 33.4),
    (35, 35.4), (37, 37.5), (39, 39.6), (41, 41.4), (43, 43.5),
    (44, 44), (44, 45), (44, 46), (46, 46), (46, 47.5), (46, 49), (48, 48), (48, 49.5), (48, 51), (48, 52.3),
    (50, 49.7), (50, 51.5), (50, 53.3), (50, 55.3), (52, 51.5), (52, 53.5), (52, 55.5), (52, 57.3), (52, 59),
    (54, 53.3), (54, 55.5), (54, 57.8), (54, 60), (54, 62.5), (56, 55), (56, 57.5), (56, 60), (56, 62.5), (56, 65), (56, 66.5),
    (58, 57), (58, 59.5), (58, 62), (58, 64.5), (58, 67), (58, 69.5), (60, 58.5), (60, 61), (60, 63.5), (60, 66), (60, 68.5), (60, 71), (60, 73),
    (62, 60), (62, 62.5), (62, 65), (62, 67.5), (62, 70), (62, 72.5), (62, 75), (62, 77),
    (64, 62), (64, 64.5), (64, 67), (64, 69.5), (64, 72), (64, 74.5), (64, 77), (64, 79.5),
    (66, 64.5), (66, 67), (66, 69.5), (66, 72), (66, 74.5), (66, 77), (66, 79.5),
    (68, 67), (68, 69.5), (68, 72), (68, 74.5), (68, 77), (68, 79.5), (70, 70), (70, 72.5), (70, 75), (70, 77.5),
    (72, 73), (72, 75.5), (72, 78.5),
    (45, 45), (45, 47.5), (47, 47), (47, 49), (47, 50.5), (49, 48.9), (49, 51), (49, 53.5),
    (51, 50.7), (51, 53), (51, 55.5), (51, 57.5), (53, 52.5), (53, 55), (53, 58), (53, 60.5),
    (55, 54.2), (55, 57), (55, 60), (55, 63), (55, 64.8), (57, 56), (57, 59), (57, 62), (57, 65), (57, 68),
    (59, 57.8), (59, 60.5), (59, 63.5), (59, 66.5), (59, 69.5), (59, 71.5), (61, 59.3), (61, 62), (61, 65), (61, 68), (61, 71), (61, 74),
    (63, 61), (63, 64), (63, 67), (63, 70), (63, 73), (63, 76), (63, 79), (65, 63.2), (65, 66), (65, 69), (65, 72), (65, 75), (65, 78),
    (67, 65.8), (67, 68.5), (67, 71.5), (67, 74.5), (67, 77.5), (69, 68.5), (69, 71), (69, 74), (69, 77), (69, 80),
    (71, 71.5), (71, 74), (71, 76.5), (71, 79), (73, 74), (73, 77), (73, 80),
]

marker_color = "rgb(58,28,255)"
font_family = "Liberation Sans, Arial, Helvetica, sans-serif"

panels = [
    # (data, x-domain, y-domain, xrange, yrange, xdtick, ydtick)
    (pos_xy, [0.0831, 0.3065], [0.554, 0.9239], [-80, 80], [-80, 80], 20, 20),
    (pos_xz, [0.4243, 0.6464], [0.554, 0.9239], [-80, 80], [-80, 80], 20, 20),
    (a_ecc, [0.7754, 0.9888], [0.554, 0.9239], [0, 80], [0, 1], 10, 0.2),
    (a_inc, [0.0831, 0.3065], [0.0805, 0.4478], [0, 80], [0, 90], 10, 10),
    (a_peri, [0.4243, 0.6464], [0.0805, 0.4478], [0, 80], [0, 80], 10, 10),
    (a_afel, [0.7655, 0.9876], [0.0805, 0.4478], [0, 80], [0, 80], 10, 10),
]

fig = go.Figure()
layout_axes = {}
for i, (pts, xd, yd, xr, yr, xdt, ydt) in enumerate(panels, start=1):
    xs = [p[0] for p in pts]
    ys = [p[1] for p in pts]
    suffix = "" if i == 1 else str(i)
    fig.add_trace(go.Scatter(
        x=xs, y=ys, mode="markers",
        marker=dict(symbol="square", size=3, color=marker_color, line=dict(width=0)),
        xaxis="x" + suffix, yaxis="y" + suffix, showlegend=False, hoverinfo="skip",
    ))
    common = dict(
        showline=True, linecolor="#222", linewidth=1, mirror="ticks",
        ticks="inside", ticklen=5, tickwidth=1, tickcolor="#222",
        showgrid=False, zeroline=False, automargin=False, tickangle=0,
        tickfont=dict(family=font_family, size=13, color="black"),
    )
    layout_axes["xaxis" + suffix] = dict(common, domain=xd, range=xr, dtick=xdt, tick0=0,
                                         anchor="y" + suffix)
    layout_axes["yaxis" + suffix] = dict(common, domain=yd, range=yr, dtick=ydt, tick0=0,
                                         anchor="x" + suffix)

fig.update_layout(**layout_axes)

axis_titles = [
    ("X AU", 157, 285, 0),
    ("X AU", 431.5, 285, 0),
    ("Semieje mayor AU", 706, 285, 0),
    ("Semieje mayor AU", 157, 551, 0),
    ("Semieje mayor (AU)", 431.5, 551, 0),
    ("Semieje mayor (AU)", 706.5, 551, 0),
    ("Y AU", 19, 148, -90),
    ("Z AU", 295, 148, -90),
    ("Excentricidad", 570, 148, -90),
    ("Inclinación (grados)", 19.5, 427, -90),
    ("Perihelio (AU)", 295, 423, -90),
    ("Afelio AU", 570, 415, -90),
]
W, H = 806, 565
annotations = []
for text, px, py, ang in axis_titles:
    annotations.append(dict(
        text=text, x=px / W, y=1 - py / H, xref="paper", yref="paper",
        xanchor="center", yanchor="middle", showarrow=False, textangle=ang,
        font=dict(family=font_family, size=13, color="black"),
    ))
annotations.append(dict(
    text=title_text, x=405 / W, y=1 - 15 / H, xref="paper", yref="paper",
    xanchor="center", yanchor="middle", showarrow=False,
    font=dict(family=font_family, size=11, color="black"),
))

fig.update_layout(
    width=W, height=H, autosize=False,
    margin=dict(l=0, r=0, t=0, b=0),
    paper_bgcolor="white", plot_bgcolor="white",
    annotations=annotations,
    showlegend=False,
)

fig.write_html("out.html")
